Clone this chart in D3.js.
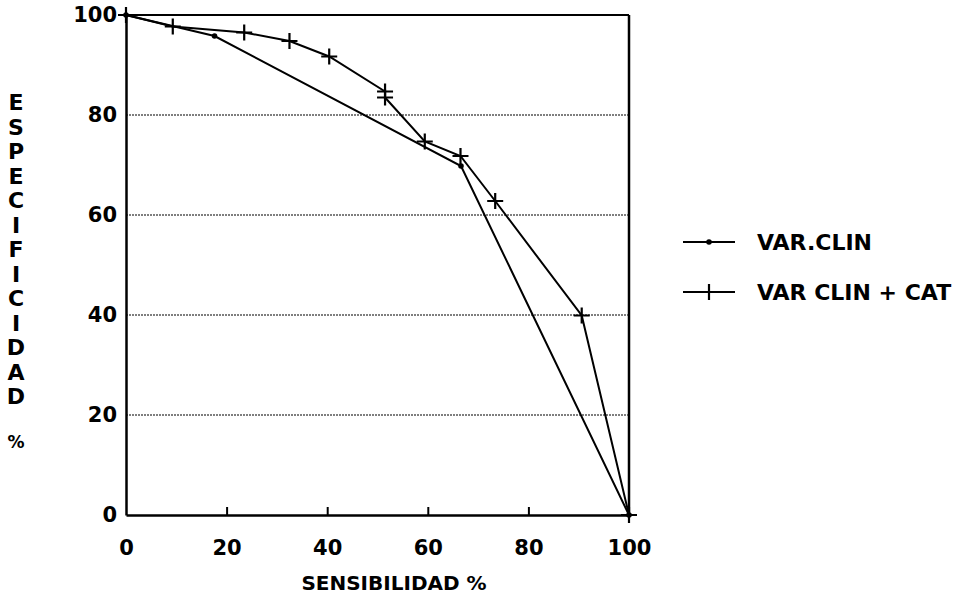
<!DOCTYPE html>
<html>
<head>
<meta charset="utf-8">
<script src="https://cdn.jsdelivr.net/npm/d3@7"></script>
<style>
  body { margin: 0; background: #fff; }
  text { font-family: "DejaVu Sans", sans-serif; font-weight: bold; fill: #000; }
</style>
</head>
<body>
<div class="chart"></div>
<script>
// data
var clinX = [0, 17.6, 66.6, 100];
var clinY = [100, 95.8, 69.8, 0];
var catX = [0, 9.3, 23.5, 32.5, 40.4, 51.5, 51.5, 59.4, 66.5, 73.4, 90.6, 100];
var catY = [100, 97.7, 96.5, 94.8, 91.7, 84.7, 83.5, 74.7, 71.8, 62.8, 39.9, 0];
var xTicks = [0, 20, 40, 60, 80, 100];
var yTicks = [0, 20, 40, 60, 80, 100];
var seriesNames = ['VAR.CLIN', 'VAR CLIN + CAT'];
var yTitle = 'ESPECIFICIDAD';

var width = 965, height = 600;

var svg = d3.select('.chart')
  .append('svg')
    .attr('width', width)
    .attr('height', height);

var xScale = d3.scaleLinear().domain([0, 100]).range([126, 629]);
var yScale = d3.scaleLinear().domain([0, 100]).range([515, 15]);

// dotted grid lines
svg.append('g')
  .selectAll('line')
  .data(yTicks.filter(d => d > 0 && d < 100))
  .enter()
  .append('line')
    .attr('x1', xScale(0))
    .attr('x2', xScale(100))
    .attr('y1', d => yScale(d))
    .attr('y2', d => yScale(d))
    .style('stroke', '#000')
    .style('stroke-width', 1.2)
    .style('stroke-dasharray', '2,1');

// frame: top and right borders
svg.append('line')
  .attr('x1', xScale(0)).attr('x2', xScale(100))
  .attr('y1', yScale(100)).attr('y2', yScale(100))
  .style('stroke', '#000').style('stroke-width', 2);
svg.append('line')
  .attr('x1', xScale(100)).attr('x2', xScale(100))
  .attr('y1', yScale(100)).attr('y2', yScale(0))
  .style('stroke', '#000').style('stroke-width', 2.5);

// x axis, ticks pointing up
var xAxis = svg.append('g')
  .attr('transform', `translate(0, ${yScale(0)})`)
  .call(d3.axisBottom(xScale).tickValues(xTicks).tickSize(-8).tickSizeOuter(0));
xAxis.select('.domain').style('stroke-width', 2.5);
xAxis.selectAll('.tick line').style('stroke-width', 2)
  .attr('display', d => (d === 0 || d === 100) ? 'none' : null);
xAxis.selectAll('.tick text')
  .style('font-family', '"DejaVu Sans", sans-serif')
  .style('font-weight', 'bold')
  .style('font-size', '21px')
  .attr('dy', 0)
  .attr('y', 40);

// y axis
var yAxis = svg.append('g')
  .attr('transform', `translate(${xScale(0)}, 0)`)
  .call(d3.axisLeft(yScale).tickValues(yTicks).tickSize(0).tickSizeOuter(0).tickPadding(9));
yAxis.select('.domain').style('stroke-width', 2.5);
yAxis.selectAll('.tick text')
  .style('font-family', '"DejaVu Sans", sans-serif')
  .style('font-weight', 'bold')
  .style('font-size', '21px');

// axis titles
svg.append('text')
  .attr('x', 394)
  .attr('y', 590)
  .attr('text-anchor', 'middle')
  .style('font-size', '20px')
  .text('SENSIBILIDAD %');

svg.append('g')
  .selectAll('text')
  .data(yTitle.split(''))
  .enter()
  .append('text')
    .attr('x', 16)
    .attr('y', (d, i) => 110 + i * 24.5)
    .attr('text-anchor', 'middle')
    .style('font-size', '22px')
    .text(d => d);
svg.append('text')
  .attr('x', 16)
  .attr('y', 448)
  .attr('text-anchor', 'middle')
  .style('font-size', '17px')
  .text('%');

var line = d3.line()
  .x(d => xScale(d[0]))
  .y(d => yScale(d[1]));

var clin = clinX.map((x, i) => [x, clinY[i]]);
var cat = catX.map((x, i) => [x, catY[i]]);

svg.append('path')
  .attr('d', line(clin))
  .style('stroke', '#000')
  .style('stroke-width', 2)
  .style('fill', 'none');

svg.append('path')
  .attr('d', line(cat))
  .style('stroke', '#000')
  .style('stroke-width', 2)
  .style('fill', 'none');

// markers
svg.append('g')
  .selectAll('circle')
  .data(clin)
  .enter()
  .append('circle')
    .attr('cx', d => xScale(d[0]))
    .attr('cy', d => yScale(d[1]))
    .attr('r', 2.8)
    .style('fill', '#000');

function drawPlus(g, cx, cy) {
  g.append('path')
    .attr('d', `M${cx - 8},${cy}H${cx + 8}M${cx},${cy - 8}V${cy + 8}`)
    .style('stroke', '#000')
    .style('stroke-width', 2.2);
}
var plusG = svg.append('g');
cat.forEach(d => drawPlus(plusG, xScale(d[0]), yScale(d[1])));

// legend
var legend = svg.append('g');
var rows = [242, 292];
rows.forEach((ry, i) => {
  legend.append('line')
    .attr('x1', 683).attr('x2', 735)
    .attr('y1', ry).attr('y2', ry)
    .style('stroke', '#000').style('stroke-width', 2);
  if (i === 0) {
    legend.append('circle').attr('cx', 709).attr('cy', ry).attr('r', 2.8).style('fill', '#000');
  } else {
    drawPlus(legend, 709, ry);
  }
  legend.append('text')
    .attr('x', 757)
    .attr('y', ry + 8)
    .style('font-size', '22px')
    .text(seriesNames[i]);
});
</script>
</body>
</html>
